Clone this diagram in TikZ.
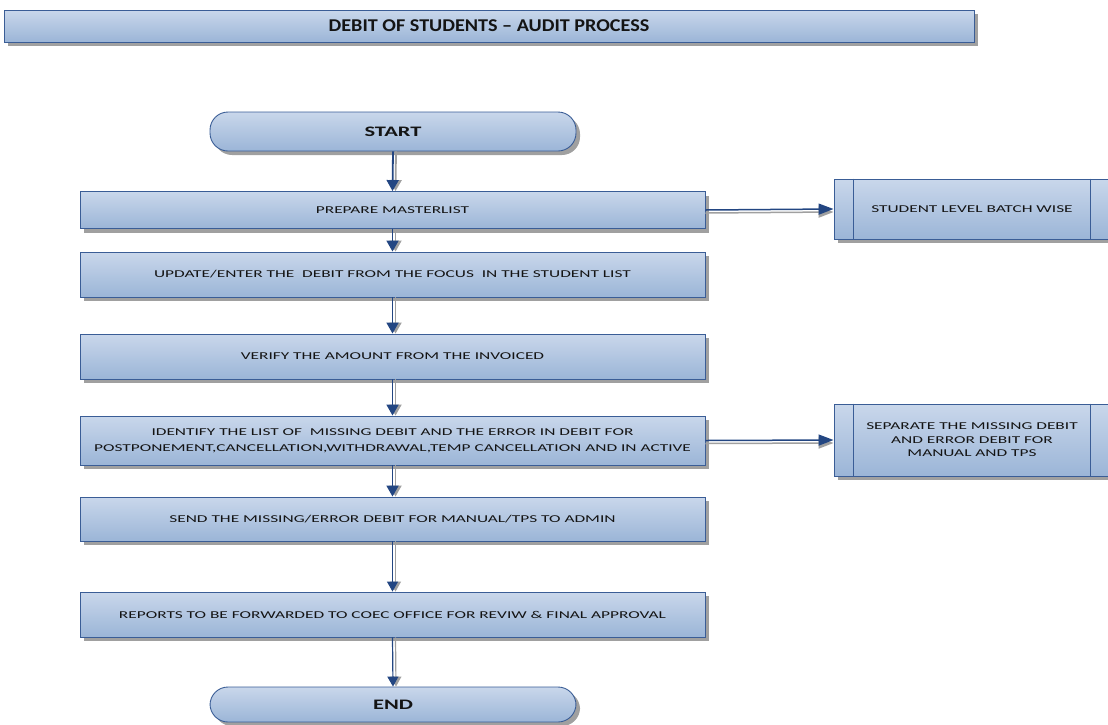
\documentclass[tikz,border=0pt]{standalone}
\usepackage{fontspec}
\usetikzlibrary{shadows,arrows.meta}
\newfontfamily\boxfont[FakeStretch=1.65]{Carlito}
\newfontfamily\termfont[FakeStretch=1.55]{Carlito}
\newfontfamily\headfont[FakeStretch=1.12]{Carlito}
\definecolor{boxtop}{RGB}{201,215,235}
\definecolor{boxbot}{RGB}{155,181,215}
\definecolor{boxedge}{RGB}{58,93,150}
\definecolor{arrowblue}{RGB}{35,70,130}
\definecolor{shadowgray}{RGB}{160,160,160}
\definecolor{textdark}{RGB}{20,20,20}
\begin{document}
\begin{tikzpicture}[x=1pt,y=-1pt,
  boxbase/.style={draw=boxedge, line width=0.9pt, top color=boxtop, bottom color=boxbot,
    text=textdark, align=center, inner sep=0pt,
    drop shadow={shadow xshift=4pt, shadow yshift=-4pt, fill=shadowgray, opacity=1}},
  titlebox/.style={boxbase, rectangle, minimum width=970pt, minimum height=32pt,
    font=\headfont\bfseries\fontsize{18}{20}\selectfont},
  procbox/.style={boxbase, rectangle, minimum width=625pt,
    font=\boxfont\fontsize{10.5}{16}\selectfont},
  termbox/.style={boxbase, rectangle, rounded corners=18pt, minimum width=366pt,
    font=\termfont\bfseries\fontsize{14.5}{16}\selectfont},
  subbox/.style={boxbase, rectangle, minimum width=276pt,
    font=\boxfont\fontsize{10.5}{13.5}\selectfont},
  flow/.style={arrowblue, line width=1.8pt, -{Triangle[length=11pt,width=12pt]}},
  flowshade/.style={shadowgray, line width=1.8pt, -{Triangle[length=11pt,width=12pt]}},
  thinflow/.style={arrowblue, line width=1.2pt, -{Triangle[length=10pt,width=11pt]}},
  thinshade/.style={shadowgray, line width=1.2pt, -{Triangle[length=10pt,width=11pt]}},
  sideflow/.style={arrowblue, line width=1.5pt, -{Triangle[length=15pt,width=11pt]}},
  sideshade/.style={shadowgray, line width=1.5pt, -{Triangle[length=15pt,width=11pt]}},
  barline/.style={boxedge, line width=0.9pt}
]
\clip (0,0) rectangle (1108,724);

% heading
\node[titlebox] (title) at (489,26) {DEBIT OF STUDENTS – AUDIT PROCESS};

% main column
\node[termbox, minimum height=39pt] (start) at (393,131.5) {START};
\node[procbox, minimum height=37pt] (prep) at (392.5,210) {PREPARE MASTERLIST};
\node[procbox, minimum height=45pt] (update) at (392.5,274.5) {UPDATE/ENTER THE\ \ DEBIT FROM THE FOCUS\ \ IN THE STUDENT LIST};
\node[procbox, minimum height=45pt] (verify) at (392.5,356.5) {VERIFY THE AMOUNT FROM THE INVOICED};
\node[procbox, minimum height=49pt] (identify) at (392.5,440.5) {IDENTIFY THE LIST OF\ \ MISSING DEBIT AND THE ERROR IN DEBIT FOR\\POSTPONEMENT,CANCELLATION,WITHDRAWAL,TEMP CANCELLATION AND IN ACTIVE};
\node[procbox, minimum height=44pt] (send) at (392.5,519) {SEND THE MISSING/ERROR DEBIT FOR MANUAL/TPS TO ADMIN};
\node[procbox, minimum height=45pt] (reports) at (392.5,614.5) {REPORTS TO BE FORWARDED TO COEC OFFICE FOR REVIW \& FINAL APPROVAL};
\node[termbox, minimum height=35pt] (end) at (393,704.5) {END};

% side processes
\node[subbox, minimum height=60pt] (student) at (972,209) {STUDENT LEVEL BATCH WISE};
\node[subbox, minimum height=72pt] (separate) at (972,440) {SEPARATE THE MISSING DEBIT\\AND ERROR DEBIT FOR\\MANUAL AND TPS};
\foreach \n in {student,separate}{
  \draw[barline] ([xshift=20pt]\n.north west) -- ([xshift=20pt]\n.south west);
  \draw[barline] ([xshift=-20pt]\n.north east) -- ([xshift=-20pt]\n.south east);
}

% vertical connectors
\foreach \a/\b in {start/prep,prep/update,update/verify,verify/identify,identify/send}{
  \draw[flowshade] ([xshift=3pt]\a.south) -- ([xshift=3pt]\b.north);
  \draw[flow] (\a.south) -- (\b.north);
}
\foreach \a/\b in {send/reports,reports/end}{
  \draw[thinshade] ([xshift=3pt]\a.south) -- ([xshift=3pt]\b.north);
  \draw[thinflow] (\a.south) -- (\b.north);
}

% side connectors
\foreach \a/\b in {prep/student,identify/separate}{
  \draw[sideshade] ([yshift=-3pt]\a.east) -- ([yshift=-3pt]\b.west);
  \draw[sideflow] (\a.east) -- (\b.west);
}
\end{tikzpicture}
\end{document}
